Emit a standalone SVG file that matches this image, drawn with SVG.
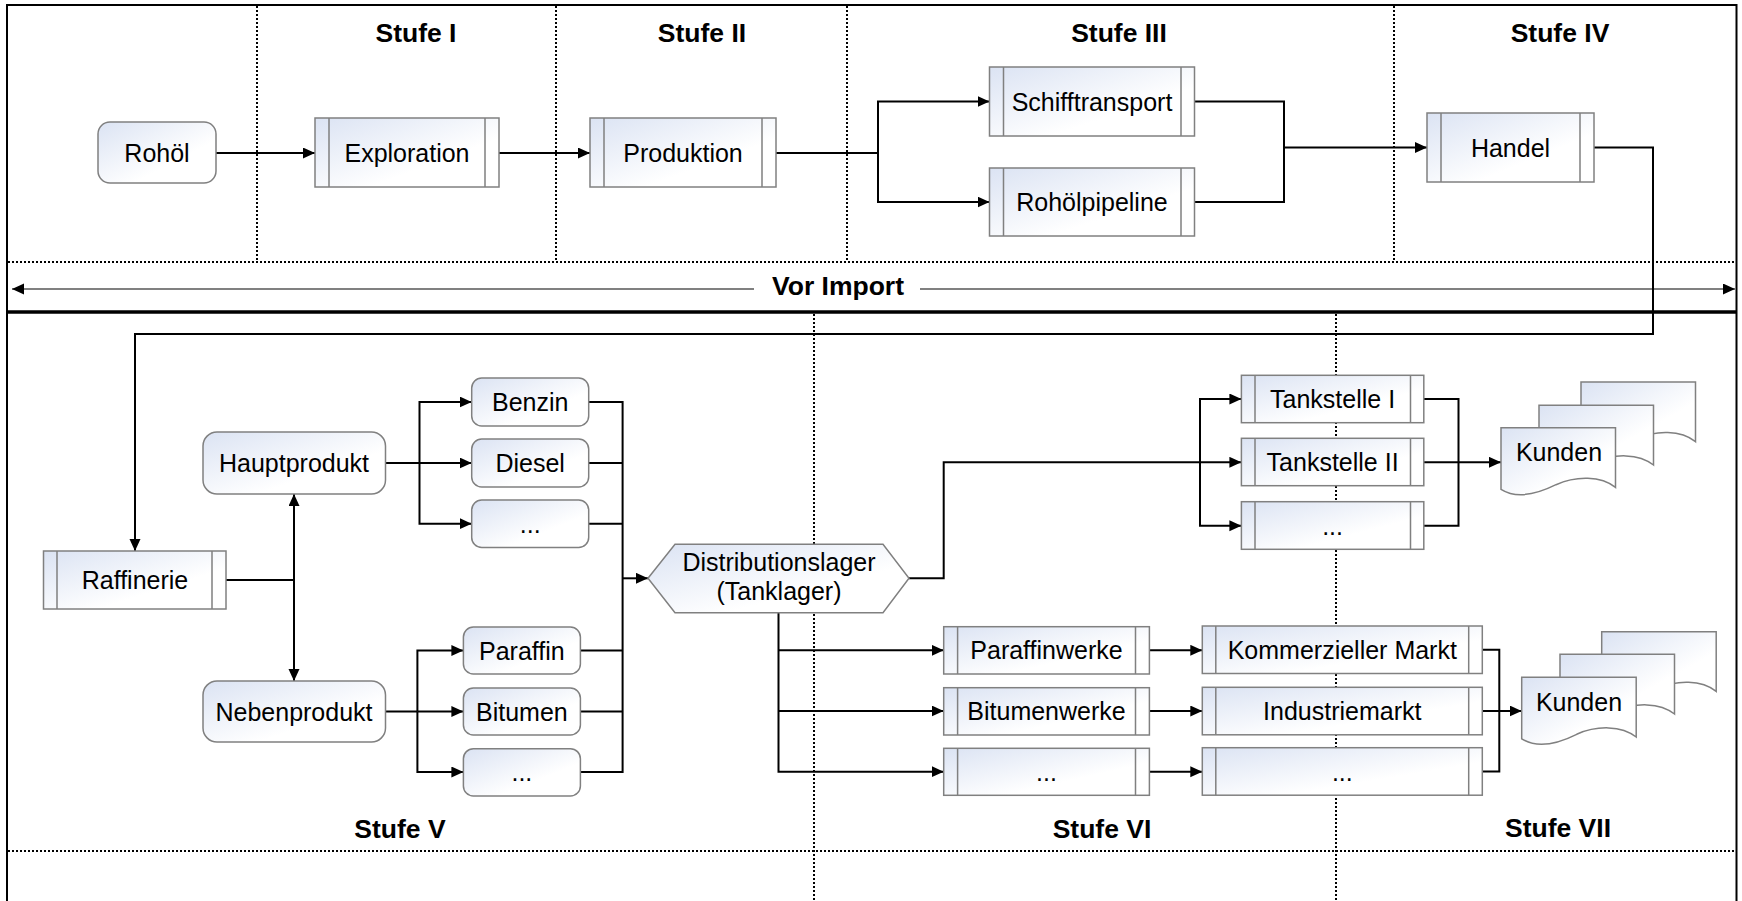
<svg xmlns="http://www.w3.org/2000/svg" width="1742" height="901" viewBox="0 0 1742 901">
<defs>
<linearGradient id="g" x1="0" y1="0" x2="1" y2="1">
<stop offset="0" stop-color="#dbe3f3"/>
<stop offset="0.65" stop-color="#ffffff"/>
</linearGradient>
<marker id="a" markerUnits="userSpaceOnUse" markerWidth="13" markerHeight="12" refX="12" refY="5.5" orient="auto">
<path d="M0,0 L12,5.5 L0,11 Z" fill="#000"/>
</marker>
<path id="doc" d="M0,0 H114.5 V59.7 C100,48 75,48 55,57 C35,67 15,71 0,61.6 Z"/>
</defs>
<style>
.box{fill:url(#g);stroke:#808080;stroke-width:1.5}
.bar{stroke:#808080;stroke-width:1.5;fill:none}
.t{font-family:"Liberation Sans",Arial,sans-serif;font-size:25px;text-anchor:middle;fill:#000}
.h{font-family:"Liberation Sans",Arial,sans-serif;font-size:26.5px;font-weight:bold;text-anchor:middle;fill:#000}
.c{fill:none;stroke:#000;stroke-width:2}
.ca{fill:none;stroke:#000;stroke-width:2;marker-end:url(#a)}
.dot{fill:none;stroke:#000;stroke-width:2;stroke-dasharray:2 2}
</style>
<rect width="1742" height="901" fill="#fff"/>

<g id="frame">
<path d="M7,901 V5 H1736.5 V901" fill="none" stroke="#000" stroke-width="2"/>
<path class="dot" d="M257,6 V262 M556,6 V262 M847,6 V262 M1394,6 V262"/>
<path class="dot" d="M8,262 H1736"/>
<path class="dot" d="M814,314 V901 M1336,314 V901"/>
<path class="dot" d="M8,851 H1736"/>
<line x1="7" y1="312" x2="1736.5" y2="312" stroke="#000" stroke-width="3.5"/>
<path d="M754,289 H12" fill="none" stroke="#808080" stroke-width="1.8" marker-end="url(#a)"/>
<path d="M920,289 H1735" fill="none" stroke="#808080" stroke-width="1.8" marker-end="url(#a)"/>
<text class="h" x="838" y="295">Vor Import</text>
</g>

<g id="labels">
<text class="h" x="416" y="42">Stufe I</text>
<text class="h" x="702" y="42">Stufe II</text>
<text class="h" x="1119" y="42">Stufe III</text>
<text class="h" x="1560" y="42">Stufe IV</text>
<text class="h" x="400" y="838">Stufe V</text>
<text class="h" x="1102" y="838">Stufe VI</text>
<text class="h" x="1558" y="837">Stufe VII</text>
</g>

<g id="connectors">
<path class="ca" d="M216,153 H315"/>
<path class="ca" d="M499,153 H590"/>
<path class="c" d="M776,153 H878"/>
<path class="ca" d="M878,153 V101.5 H989.5"/>
<path class="ca" d="M878,153 V202 H989.5"/>
<path class="c" d="M1194.5,101.5 H1284 V202 H1194.5"/>
<path class="ca" d="M1284,147.5 H1427"/>
<path class="ca" d="M1594,147.5 H1653 V334 H135 V551"/>
<path class="c" d="M226,580 H294"/>
<path class="ca" d="M294,580 V494"/>
<path class="ca" d="M294,580 V681"/>
<path class="c" d="M385.5,463 H419.5"/>
<path class="ca" d="M419.5,463 V402 H471.7"/>
<path class="ca" d="M419.5,463 H471.7"/>
<path class="ca" d="M419.5,463 V523.7 H471.7"/>
<path class="c" d="M385.5,711.5 H417.4"/>
<path class="ca" d="M417.4,711.5 V650.5 H463.4"/>
<path class="ca" d="M417.4,711.5 H463.4"/>
<path class="ca" d="M417.4,711.5 V772 H463.4"/>
<path class="c" d="M588.6,402 H622.6 V772 H580.3 M588.6,463 H622.6 M588.6,523.7 H622.6 M580.3,650.5 H622.6 M580.3,711.5 H622.6"/>
<path class="ca" d="M622.6,578.3 H648"/>
<path class="c" d="M909,578.3 H943.7 V462.3 H1200"/>
<path class="ca" d="M1200,462.3 V399 H1241.4"/>
<path class="ca" d="M1200,462.3 H1241.4"/>
<path class="ca" d="M1200,462.3 V525.7 H1241.4"/>
<path class="c" d="M1423.8,399 H1458.5 V525.7 H1423.8"/>
<path class="ca" d="M1423.8,462.3 H1501"/>
<path class="ca" d="M778.5,612.7 V771.7 H943.7"/>
<path class="ca" d="M778.5,650.3 H943.7"/>
<path class="ca" d="M778.5,711 H943.7"/>
<path class="ca" d="M1149.4,650.3 H1202.3"/>
<path class="ca" d="M1149.4,711 H1202.3"/>
<path class="ca" d="M1149.4,771.7 H1202.3"/>
<path class="c" d="M1482.3,649.8 H1499.3 V771.5 H1482.3"/>
<path class="ca" d="M1482.3,711 H1521.7"/>
</g>

<g id="rohoel"><rect class="box" x="98" y="122" width="118" height="61" rx="12"/><text class="t" x="157" y="161.5">Rohöl</text></g>
<g id="exploration"><rect class="box" x="315" y="118" width="184" height="69"/><path class="bar" d="M329,118 V187 M485,118 V187"/><text class="t" x="407" y="161.5">Exploration</text></g>
<g id="produktion"><rect class="box" x="590" y="118" width="186" height="69"/><path class="bar" d="M604,118 V187 M762,118 V187"/><text class="t" x="683" y="161.5">Produktion</text></g>
<g id="schifftransport"><rect class="box" x="989.5" y="67" width="205" height="69"/><path class="bar" d="M1003.5,67 V136 M1181,67 V136"/><text class="t" x="1092" y="110.5">Schifftransport</text></g>
<g id="rohoelpipeline"><rect class="box" x="989.5" y="168" width="205" height="68"/><path class="bar" d="M1003.5,168 V236 M1181,168 V236"/><text class="t" x="1092" y="211">Rohölpipeline</text></g>
<g id="handel"><rect class="box" x="1427" y="113" width="167" height="69"/><path class="bar" d="M1441,113 V182 M1580,113 V182"/><text class="t" x="1510.5" y="156.5">Handel</text></g>

<g id="raffinerie"><rect class="box" x="43.5" y="551" width="182.5" height="58"/><path class="bar" d="M57,551 V609 M212,551 V609"/><text class="t" x="135" y="589">Raffinerie</text></g>
<g id="hauptprodukt"><rect class="box" x="203" y="432" width="182.5" height="62" rx="14"/><text class="t" x="294" y="472">Hauptprodukt</text></g>
<g id="nebenprodukt"><rect class="box" x="203" y="681" width="182.5" height="61" rx="14"/><text class="t" x="294" y="720.5">Nebenprodukt</text></g>
<g id="benzin"><rect class="box" x="471.7" y="378" width="117" height="48" rx="10"/><text class="t" x="530.2" y="411">Benzin</text></g>
<g id="diesel"><rect class="box" x="471.7" y="439" width="117" height="48" rx="10"/><text class="t" x="530.2" y="472">Diesel</text></g>
<g id="haupt-etc"><rect class="box" x="471.7" y="500" width="117" height="47.5" rx="10"/><text class="t" x="530.2" y="532.7">...</text></g>
<g id="paraffin"><rect class="box" x="463.4" y="627" width="117" height="47" rx="10"/><text class="t" x="521.9" y="659.5">Paraffin</text></g>
<g id="bitumen"><rect class="box" x="463.4" y="688" width="117" height="47" rx="10"/><text class="t" x="521.9" y="720.5">Bitumen</text></g>
<g id="neben-etc"><rect class="box" x="463.4" y="748.7" width="117" height="47.3" rx="10"/><text class="t" x="521.9" y="781">...</text></g>

<g id="distributionslager"><polygon class="box" points="648,578.3 675,544.3 883,544.3 909,578.3 883,612.7 675,612.7"/><text class="t" x="779" y="570.5">Distributionslager</text><text class="t" x="779" y="600">(Tanklager)</text></g>

<g id="tankstelle1"><rect class="box" x="1241.4" y="375.3" width="182.4" height="47.4"/><path class="bar" d="M1255,375.3 V422.7 M1410.5,375.3 V422.7"/><text class="t" x="1332.6" y="408">Tankstelle I</text></g>
<g id="tankstelle2"><rect class="box" x="1241.4" y="438.3" width="182.4" height="47.4"/><path class="bar" d="M1255,438.3 V485.7 M1410.5,438.3 V485.7"/><text class="t" x="1332.6" y="471">Tankstelle II</text></g>
<g id="tankstelle-etc"><rect class="box" x="1241.4" y="501.7" width="182.4" height="47.6"/><path class="bar" d="M1255,501.7 V549.3 M1410.5,501.7 V549.3"/><text class="t" x="1332.6" y="534.7">...</text></g>

<g id="kunden1">
<use href="#doc" class="box" x="1581" y="382"/>
<use href="#doc" class="box" x="1539" y="405.3"/>
<use href="#doc" class="box" x="1501" y="427.7"/>
<text class="t" x="1559" y="461">Kunden</text>
</g>

<g id="paraffinwerke"><rect class="box" x="943.7" y="626.7" width="205.7" height="47.3"/><path class="bar" d="M957.6,626.7 V674 M1135.5,626.7 V674"/><text class="t" x="1046.5" y="659.3">Paraffinwerke</text></g>
<g id="bitumenwerke"><rect class="box" x="943.7" y="687.7" width="205.7" height="47.3"/><path class="bar" d="M957.6,687.7 V735 M1135.5,687.7 V735"/><text class="t" x="1046.5" y="720">Bitumenwerke</text></g>
<g id="werke-etc"><rect class="box" x="943.7" y="748.3" width="205.7" height="47"/><path class="bar" d="M957.6,748.3 V795.3 M1135.5,748.3 V795.3"/><text class="t" x="1046.5" y="780.7">...</text></g>

<g id="kommerzieller-markt"><rect class="box" x="1202.3" y="626" width="280" height="47.5"/><path class="bar" d="M1215.8,626 V673.5 M1468.7,626 V673.5"/><text class="t" x="1342.3" y="658.7">Kommerzieller Markt</text></g>
<g id="industriemarkt"><rect class="box" x="1202.3" y="687.3" width="280" height="47.5"/><path class="bar" d="M1215.8,687.3 V734.8 M1468.7,687.3 V734.8"/><text class="t" x="1342.3" y="720">Industriemarkt</text></g>
<g id="markt-etc"><rect class="box" x="1202.3" y="747.7" width="280" height="47.5"/><path class="bar" d="M1215.8,747.7 V795.2 M1468.7,747.7 V795.2"/><text class="t" x="1342.3" y="780.5">...</text></g>

<g id="kunden2">
<use href="#doc" class="box" x="1601.7" y="631.7"/>
<use href="#doc" class="box" x="1560" y="654.3"/>
<use href="#doc" class="box" x="1521.7" y="677.3"/>
<text class="t" x="1579" y="710.5">Kunden</text>
</g>
</svg>
